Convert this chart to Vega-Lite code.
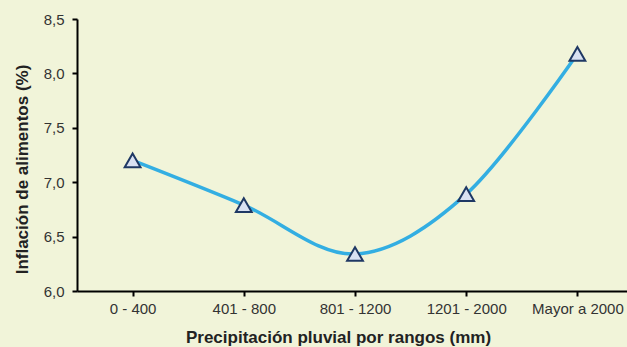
{
  "$schema": "https://vega.github.io/schema/vega-lite/v6.json",
  "autosize": {"type": "none"},
  "padding": {"left": 77, "top": 19, "right": 0, "bottom": 56},
  "width": 556,
  "height": 272,
  "background": "#F1F4D9",
  "config": {
    "view": {"stroke": null},
    "font": "Liberation Sans",
    "axis": {"grid": false, "domainColor": "#000000", "domainWidth": 2, "tickColor": "#000000", "tickWidth": 2, "tickSize": 5, "labelFont": "Liberation Sans", "labelFontSize": 15, "labelColor": "#333333", "titleFont": "Liberation Sans", "titleFontSize": 17, "titleFontWeight": "bold", "titleColor": "#222222"}
  },
  "data": {"values": [
    {"rango": "0 - 400", "inflacion": 7.2},
    {"rango": "401 - 800", "inflacion": 6.79},
    {"rango": "801 - 1200", "inflacion": 6.34},
    {"rango": "1201 - 2000", "inflacion": 6.89},
    {"rango": "Mayor a 2000", "inflacion": 8.18}
  ]},
  "encoding": {
    "x": {"field": "rango", "type": "ordinal", "sort": null,
      "scale": {"paddingInner": 0, "paddingOuter": 0},
      "axis": {"title": "Precipitación pluvial por rangos (mm)", "labelAngle": 0, "labelPadding": 5, "bandPosition": 0, "titleX": 261, "titleY": 51, "titleBaseline": "alphabetic", "titleAnchor": "middle"}},
    "y": {"field": "inflacion", "type": "quantitative",
      "scale": {"domain": [6, 8.5], "nice": false, "zero": false},
      "axis": {"title": "Inflación de alimentos (%)", "values": [6, 6.5, 7, 7.5, 8, 8.5], "format": ".1f", "labelExpr": "replace(datum.label, '.', ',')", "labelPadding": 8, "titleX": -50, "titleY": 150, "titleBaseline": "alphabetic", "tickCount": 6}}
  },
  "layer": [
    {"mark": {"type": "line", "interpolate": "cardinal", "color": "#33AEE2", "strokeWidth": 3.5}},
    {"mark": {"type": "point", "shape": "triangle-up", "size": 250, "filled": true, "fill": "#D9E1F2", "stroke": "#1F3864", "strokeWidth": 2, "opacity": 1}}
  ]
}
